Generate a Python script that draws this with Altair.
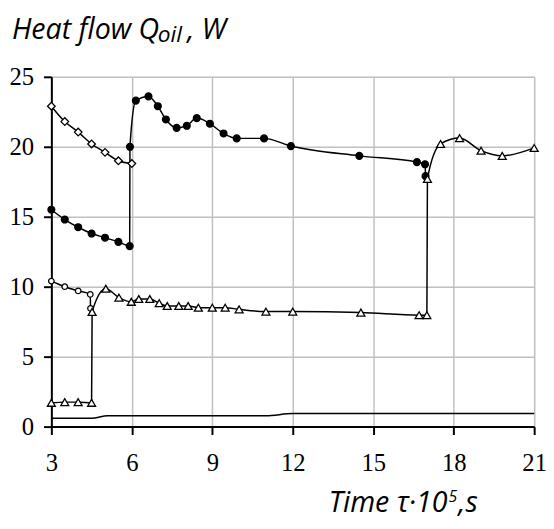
import altair as alt
import pandas as pd

# ---------------- data ----------------
diamond_x = [3, 3.5, 4, 4.5, 5, 5.5, 6]
diamond_y = [22.9, 21.8, 21.05, 20.2, 19.6, 19.0, 18.8]

dot_x = [3, 3.5, 4, 4.5, 5, 5.5, 5.92, 5.93, 6.15, 6.62, 6.97, 7.27, 7.67, 8.05, 8.42,
         8.91, 9.42, 9.91, 10.93, 11.93, 14.48, 16.63, 16.93, 16.95]
dot_y = [15.5, 14.8, 14.25, 13.8, 13.5, 13.2, 12.9, 20.0, 23.3, 23.6, 22.9, 21.95, 21.35, 21.5, 22.05,
         21.65, 20.95, 20.6, 20.6, 20.05, 19.35, 18.9, 18.75, 17.9]

circle_x = [3, 3.5, 4, 4.45, 4.46]
circle_y = [10.4, 10.0, 9.7, 9.45, 8.45]

tri_x = [3, 3.5, 4, 4.5, 4.52, 5.03, 5.52, 5.98, 6.26, 6.67, 7.02, 7.32, 7.75, 8.1, 8.48, 9.0,
         9.48, 10.0, 11.0, 12.0, 14.54, 16.71, 17.0, 17.02, 17.51, 18.22, 19.02, 19.81, 21.0]
tri_y = [1.7, 1.75, 1.75, 1.7, 8.2, 9.85, 9.22, 8.92, 9.12, 9.12, 8.82, 8.62, 8.62, 8.62, 8.5, 8.5,
         8.5, 8.38, 8.22, 8.22, 8.15, 7.96, 7.96, 17.7, 20.2, 20.62, 19.72, 19.35, 19.92]

base_x = [3, 4.5, 5.1, 11.0, 12.0, 21.0]
base_y = [0.6, 0.6, 0.78, 0.78, 0.93, 0.93]

x_ticks = [3, 6, 9, 12, 15, 18, 21]
y_ticks = [0, 5, 10, 15, 20, 25]

ytitle_parts = ["Heat flow Q", "oil", ", W"]
xtitle_parts = ["Time \u03c4\u00b710", "5", ",s"]

# ---------------- table ----------------
rows = []
for name, xs_, ys_ in [("diamond", diamond_x, diamond_y), ("dot", dot_x, dot_y),
                       ("circle", circle_x, circle_y), ("tri", tri_x, tri_y),
                       ("base", base_x, base_y)]:
    for i, (xv, yv) in enumerate(zip(xs_, ys_)):
        rows.append({"series": name, "idx": i, "x": xv, "y": yv})
df = pd.DataFrame(rows)

xs = alt.Scale(domain=[3, 21], nice=False, zero=False)
ys = alt.Scale(domain=[0, 25], nice=False)

serif = "Liberation Serif"
x_axis = alt.Axis(values=x_ticks, title=None, labelPadding=17, labelFlush=False)
y_axis = alt.Axis(values=y_ticks, title=None, labelPadding=10, labelFlush=False)

base = alt.Chart(df)

lines = base.mark_line(color="black", strokeWidth=1.5, interpolate="monotone").encode(
    x=alt.X("x:Q", scale=xs, axis=x_axis),
    y=alt.Y("y:Q", scale=ys, axis=y_axis),
    detail="series:N",
    order="idx:Q",
)

def pts(series, shape, size, filled):
    return base.transform_filter(alt.datum.series == series).mark_point(
        shape=shape, size=size, filled=filled,
        fill="black" if filled else "white", fillOpacity=1,
        stroke="black", strokeWidth=1.3, opacity=1,
    ).encode(x=alt.X("x:Q", scale=xs, axis=x_axis), y=alt.Y("y:Q", scale=ys, axis=y_axis))

p_diamond = pts("diamond", "diamond", 60, False)
p_dot = pts("dot", "circle", 48, True)
p_circle = pts("circle", "circle", 32, False)
p_tri = pts("tri", "triangle-up", 65, False)

def txt(s, x, y, size, align="left", font="Open Sans", style="italic"):
    return alt.Chart(pd.DataFrame({"t": [s]})).mark_text(
        font=font, fontStyle=style, fontSize=size, align=align, baseline="alphabetic",
        color="black",
    ).encode(text="t:N", x=alt.value(x), y=alt.value(y))

t1 = txt(ytitle_parts[0], -40, -38, 29)
t2 = txt(ytitle_parts[1], 108, -35, 23)
t3 = txt(ytitle_parts[2], 138, -38, 29)
x1 = txt(xtitle_parts[0], 402, 442, 29, "right")
x2 = txt(xtitle_parts[1], 403, 432, 16)
x3 = txt(xtitle_parts[2], 413, 442, 29)

chart = alt.layer(lines, p_diamond, p_dot, p_circle, p_tri, t1, t2, t3, x1, x2, x3).properties(
    width=490, height=355,
    autosize=alt.AutoSizeParams(type="none"),
    padding={"left": 44, "top": 66, "right": 12, "bottom": 95},
).configure_view(stroke="black", strokeWidth=2).configure(background="white").configure_axis(
    tickSize=8, labelFont=serif, labelFontSize=25, labelColor="black",
    domainColor="black", domainWidth=2, tickColor="black", tickWidth=2,
    gridColor="#c0c0c0", gridWidth=1.5,
)

chart.save("out.html", embed_options={"renderer": "svg", "actions": False})
